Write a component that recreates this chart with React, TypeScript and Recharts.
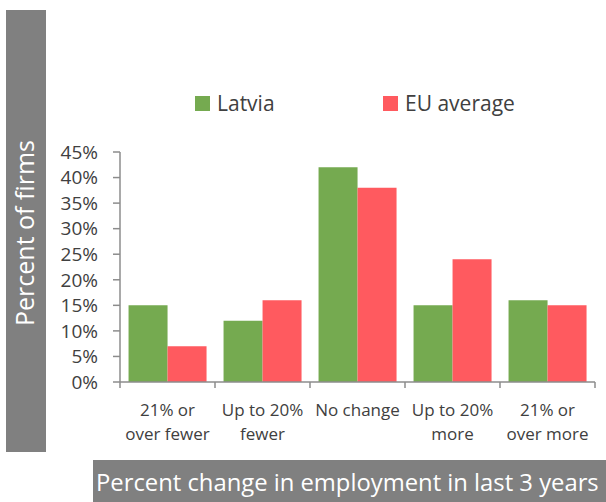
import { BarChart, Bar, XAxis, YAxis, Legend } from 'recharts'

const categories = ['21% or\nover fewer', 'Up to 20%\nfewer', 'No change', 'Up to 20%\nmore', '21% or\nover more']
const latvia = [15, 12, 42, 15, 16]
const euAverage = [7, 16, 38, 24, 15]
const yTicks = [0, 5, 10, 15, 20, 25, 30, 35, 40, 45]

const GREEN = '#75AA50'
const RED = '#FF5A5F'
const AXIS = '#8c8c8c'
const FONT = '"Open Sans", sans-serif'

const data = categories.map((c, i) => ({ name: c, latvia: latvia[i], eu: euAverage[i] }))

const W = 606
const H = 502
const PLOT_LEFT = 120
const PLOT_RIGHT = 11
const band = (W - PLOT_LEFT - PLOT_RIGHT) / categories.length

function CategoryTick(props: any) {
  const { x, y, payload, index } = props
  const lines = String(payload.value).split('\n')
  return (
    <g>
      <line x1={x - band / 2} x2={x - band / 2} y1={y - 8} y2={y - 2} stroke={AXIS} strokeWidth={1.5} />
      {index === categories.length - 1 && (
        <line x1={x + band / 2} x2={x + band / 2} y1={y - 8} y2={y - 2} stroke={AXIS} strokeWidth={1.5} />
      )}
      <text x={x} y={y + 26} textAnchor="middle" fill="#404040" fontSize={17} fontFamily={FONT}>
        {lines.map((l, i) => (
          <tspan key={i} x={x} dy={i === 0 ? 0 : 24}>{l}</tspan>
        ))}
      </text>
    </g>
  )
}

function YTitle() {
  return (
    <g>
      <rect x={6} y={10} width={40} height={442} fill="#808080" />
      <text x={34} y={233} transform="rotate(-90 34 233)" textAnchor="middle"
        fill="#fff" fontSize={25} fontFamily={FONT}>Percent of firms</text>
    </g>
  )
}

function XTitle() {
  return (
    <g>
      <rect x={93} y={460} width={513} height={42} fill="#808080" />
      <text x={96} y={491} fill="#fff" fontSize={23.8} fontFamily={FONT}>
        Percent change in employment in last 3 years
      </text>
    </g>
  )
}

function LegendBox() {
  const items = [
    { label: 'Latvia', color: GREEN, left: 195 },
    { label: 'EU average', color: RED, left: 383 },
  ]
  return (
    <div style={{ position: 'relative', width: W, height: 30, fontFamily: FONT }}>
      {items.map((it) => (
        <div key={it.label} style={{ position: 'absolute', left: it.left, top: 0, display: 'flex', alignItems: 'center', height: 30 }}>
          <span style={{ width: 15, height: 15, background: it.color, display: 'inline-block', marginRight: 7 }} />
          <span style={{ fontSize: 21, color: '#404040' }}>{it.label}</span>
        </div>
      ))}
    </div>
  )
}

export default function App() {
  return (
    <div style={{ position: 'absolute', left: 0, top: 0, width: W, height: H, background: '#fff' }}>
      <BarChart width={W} height={H} data={data} margin={{ top: 152, right: PLOT_RIGHT, left: 0, bottom: 0 }}
        barCategoryGap="9%" barGap={0}>
        <Legend verticalAlign="middle" align="center" layout="horizontal" content={<LegendBox />}
          wrapperStyle={{ top: 88, left: 0, width: W }} />
        <YAxis width={PLOT_LEFT} domain={[0, 45]} ticks={yTicks} tickFormatter={(v) => `${v}%`}
          interval={0} tickSize={7} tickMargin={15} stroke={AXIS} strokeWidth={1.5}
          tick={{ fill: '#404040', fontSize: 19, fontFamily: FONT }} label={<YTitle />} />
        <XAxis dataKey="name" height={H - 382} interval={0} tickLine={false} stroke={AXIS} strokeWidth={1.5}
          tick={<CategoryTick />} label={<XTitle />} />
        <Bar dataKey="latvia" name="Latvia" fill={GREEN} isAnimationActive={false} />
        <Bar dataKey="eu" name="EU average" fill={RED} isAnimationActive={false} />
      </BarChart>
    </div>
  )
}
